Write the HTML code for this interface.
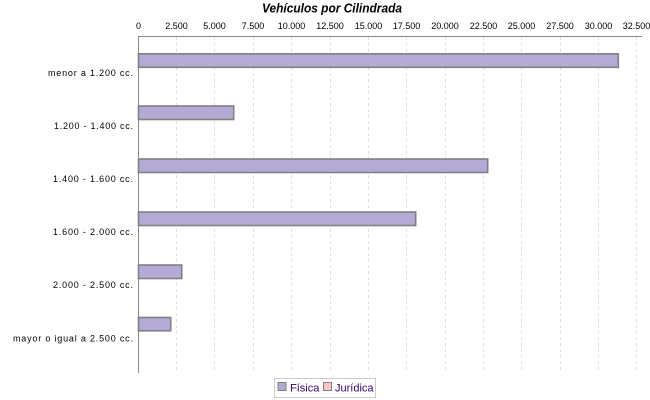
<!DOCTYPE html>
<html><head><meta charset="utf-8"><style>
html,body{margin:0;padding:0;background:#fff;}
svg{display:block;}
</style></head><body>
<svg width="650" height="400" viewBox="0 0 650 400" xmlns="http://www.w3.org/2000/svg" font-family="Liberation Sans, sans-serif">
<rect width="650" height="400" fill="#fff"/>
<text x="332" y="12.3" font-size="12.5" font-weight="bold" font-style="italic" text-anchor="middle" textLength="140" lengthAdjust="spacingAndGlyphs" fill="#000">Vehículos por Cilindrada</text>
<g stroke="#e0e0e0" stroke-width="1" stroke-dasharray="3,3">
<line x1="176.5" y1="37" x2="176.5" y2="373"/>
<line x1="214.5" y1="37" x2="214.5" y2="373"/>
<line x1="253.5" y1="37" x2="253.5" y2="373"/>
<line x1="291.5" y1="37" x2="291.5" y2="373"/>
<line x1="330.5" y1="37" x2="330.5" y2="373"/>
<line x1="368.5" y1="37" x2="368.5" y2="373"/>
<line x1="406.5" y1="37" x2="406.5" y2="373"/>
<line x1="445.5" y1="37" x2="445.5" y2="373"/>
<line x1="483.5" y1="37" x2="483.5" y2="373"/>
<line x1="521.5" y1="37" x2="521.5" y2="373"/>
<line x1="560.5" y1="37" x2="560.5" y2="373"/>
<line x1="598.5" y1="37" x2="598.5" y2="373"/>
<line x1="636.5" y1="37" x2="636.5" y2="373"/>
</g>
<g font-size="9" fill="#000" text-anchor="middle">
<text x="138.5" y="29">0</text>
<text x="176.5" y="29">2.500</text>
<text x="214.5" y="29">5.000</text>
<text x="253" y="29">7.500</text>
<text x="291.5" y="29">10.000</text>
<text x="330" y="29">12.500</text>
<text x="368.5" y="29">15.000</text>
<text x="406.5" y="29">17.500</text>
<text x="445" y="29">20.000</text>
<text x="483.5" y="29">22.500</text>
<text x="521.5" y="29">25.000</text>
<text x="560" y="29">27.500</text>
<text x="598.5" y="29">30.000</text>
<text x="636.5" y="29">32.500</text>
</g>
<line x1="138" y1="36.5" x2="642" y2="36.5" stroke="#888" stroke-width="1"/>
<line x1="138.5" y1="36" x2="138.5" y2="373" stroke="#888" stroke-width="1"/>
<g fill="#b5aad6" stroke="#808080" stroke-width="1.6">
<rect x="138.5" y="53.8" width="479.8" height="13.5"/>
<rect x="138.5" y="106" width="95.2" height="13.5"/>
<rect x="138.5" y="159" width="349.2" height="13.5"/>
<rect x="138.5" y="212" width="277.2" height="13.5"/>
<rect x="138.5" y="265" width="43.2" height="13.5"/>
<rect x="138.5" y="317.5" width="32.2" height="13.3"/>
</g>
<g font-size="9" fill="#000" text-anchor="end">
<text x="133" y="76" textLength="85" lengthAdjust="spacing">menor a 1.200 cc.</text>
<text x="133" y="129" textLength="79" lengthAdjust="spacing">1.200 - 1.400 cc.</text>
<text x="133" y="182" textLength="80" lengthAdjust="spacing">1.400 - 1.600 cc.</text>
<text x="133" y="235" textLength="80" lengthAdjust="spacing">1.600 - 2.000 cc.</text>
<text x="133" y="288" textLength="80" lengthAdjust="spacing">2.000 - 2.500 cc.</text>
<text x="133" y="341.5" textLength="120" lengthAdjust="spacing">mayor o igual a 2.500 cc.</text>
</g>
<rect x="274.5" y="378.5" width="101" height="19" fill="#fff" stroke="#cccccc" stroke-width="1"/>
<rect x="278" y="382.5" width="8" height="8" fill="#b5aad6" stroke="#808080" stroke-width="1"/>
<text x="290" y="391.5" font-size="11" fill="#330066">Física</text>
<rect x="323.5" y="382.5" width="8" height="8" fill="#ffc8c8" stroke="#808080" stroke-width="1"/>
<text x="335" y="391.5" font-size="11" fill="#330066">Jurídica</text>
</svg>
</body></html>
